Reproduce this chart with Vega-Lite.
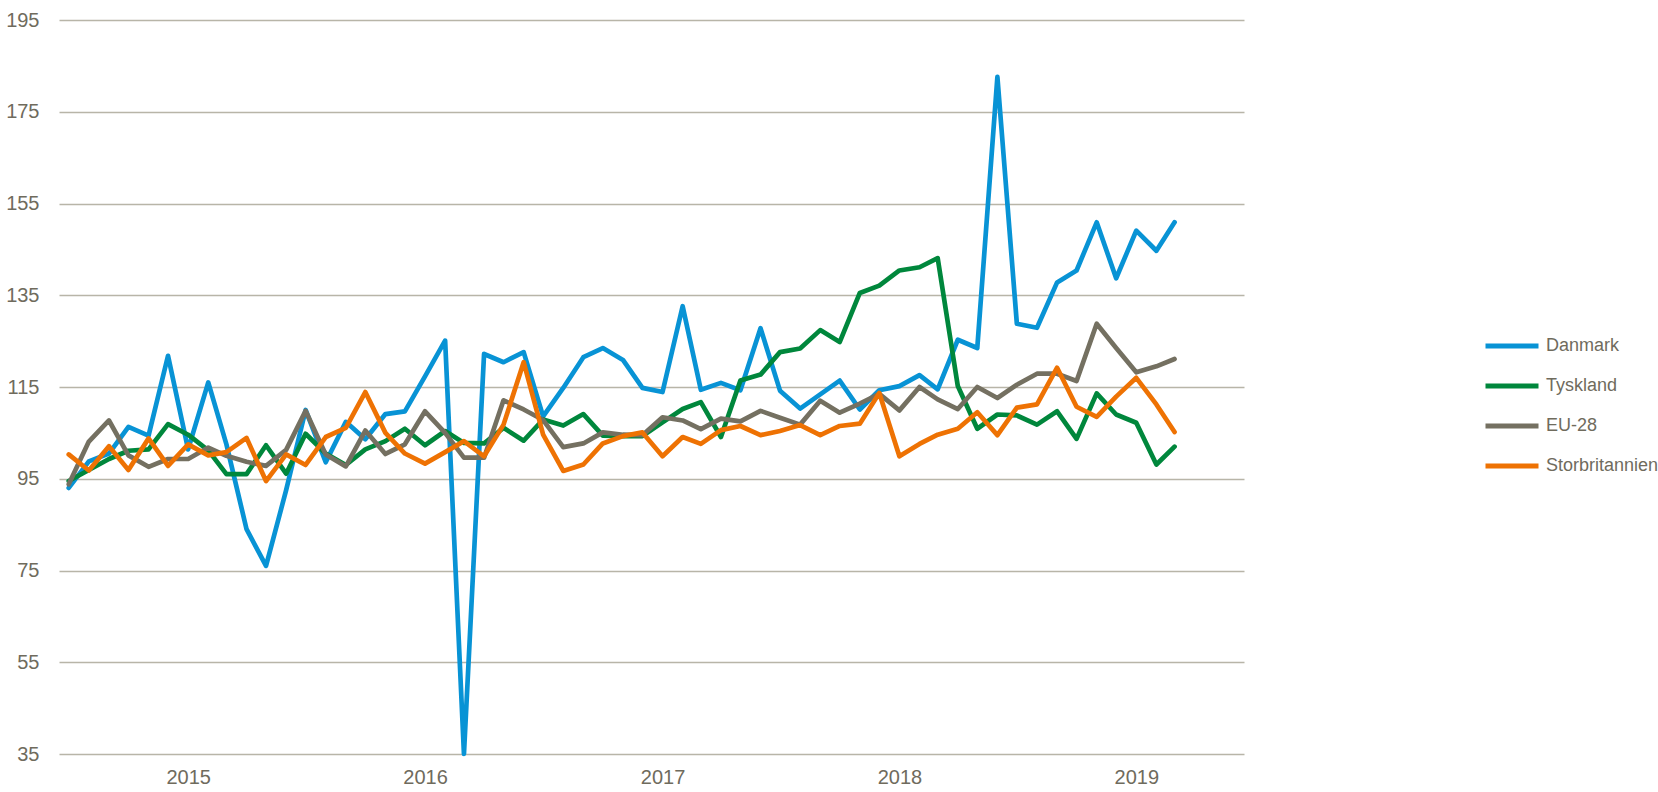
{
  "$schema": "https://vega.github.io/schema/vega-lite/v6.json",
  "width": 1185,
  "height": 734,
  "autosize": {"type": "none"},
  "padding": {"left": 59, "top": 20, "right": 414, "bottom": 38},
  "background": "white",
  "config": {
    "view": {"stroke": null},
    "font": "Liberation Sans"
  },
  "datasets": {
    "wide": [
      {"m": "2014-07-01", "Danmark": 93.0, "Tyskland": 94.5, "EU-28": 93.8, "Storbritannien": 100.3},
      {"m": "2014-08-01", "Danmark": 98.8, "Tyskland": 96.9, "EU-28": 103.1, "Storbritannien": 96.8},
      {"m": "2014-09-01", "Danmark": 100.5, "Tyskland": 99.3, "EU-28": 107.7, "Storbritannien": 102.1},
      {"m": "2014-10-01", "Danmark": 106.3, "Tyskland": 101.1, "EU-28": 100.1, "Storbritannien": 96.9},
      {"m": "2014-11-01", "Danmark": 104.4, "Tyskland": 101.4, "EU-28": 97.6, "Storbritannien": 103.8},
      {"m": "2014-12-01", "Danmark": 121.8, "Tyskland": 106.9, "EU-28": 99.3, "Storbritannien": 97.8},
      {"m": "2015-01-01", "Danmark": 101.4, "Tyskland": 104.6, "EU-28": 99.3, "Storbritannien": 102.5},
      {"m": "2015-02-01", "Danmark": 116.0, "Tyskland": 101.2, "EU-28": 101.8, "Storbritannien": 100.1},
      {"m": "2015-03-01", "Danmark": 102.5, "Tyskland": 96.0, "EU-28": 100.0, "Storbritannien": 100.8},
      {"m": "2015-04-01", "Danmark": 84.0, "Tyskland": 96.0, "EU-28": 98.7, "Storbritannien": 103.9},
      {"m": "2015-05-01", "Danmark": 76.0, "Tyskland": 102.3, "EU-28": 97.8, "Storbritannien": 94.5},
      {"m": "2015-06-01", "Danmark": 92.5, "Tyskland": 96.1, "EU-28": 101.3, "Storbritannien": 100.3},
      {"m": "2015-07-01", "Danmark": 110.0, "Tyskland": 104.8, "EU-28": 109.8, "Storbritannien": 98.0},
      {"m": "2015-08-01", "Danmark": 98.6, "Tyskland": 100.5, "EU-28": 100.3, "Storbritannien": 104.1},
      {"m": "2015-09-01", "Danmark": 107.4, "Tyskland": 98.0, "EU-28": 97.7, "Storbritannien": 106.1},
      {"m": "2015-10-01", "Danmark": 103.6, "Tyskland": 101.4, "EU-28": 105.5, "Storbritannien": 113.9},
      {"m": "2015-11-01", "Danmark": 109.1, "Tyskland": 103.2, "EU-28": 100.4, "Storbritannien": 105.0},
      {"m": "2015-12-01", "Danmark": 109.7, "Tyskland": 105.9, "EU-28": 102.5, "Storbritannien": 100.5},
      {"m": "2016-01-01", "Danmark": 117.3, "Tyskland": 102.3, "EU-28": 109.7, "Storbritannien": 98.3},
      {"m": "2016-02-01", "Danmark": 125.1, "Tyskland": 105.4, "EU-28": 105.0, "Storbritannien": 100.8},
      {"m": "2016-03-01", "Danmark": 35.0, "Tyskland": 102.8, "EU-28": 99.6, "Storbritannien": 103.2},
      {"m": "2016-04-01", "Danmark": 122.2, "Tyskland": 102.7, "EU-28": 99.6, "Storbritannien": 99.9},
      {"m": "2016-05-01", "Danmark": 120.4, "Tyskland": 106.1, "EU-28": 112.1, "Storbritannien": 106.8},
      {"m": "2016-06-01", "Danmark": 122.6, "Tyskland": 103.3, "EU-28": 110.1, "Storbritannien": 120.4},
      {"m": "2016-07-01", "Danmark": 108.6, "Tyskland": 107.9, "EU-28": 107.8, "Storbritannien": 104.6},
      {"m": "2016-08-01", "Danmark": 114.8, "Tyskland": 106.6, "EU-28": 101.9, "Storbritannien": 96.7},
      {"m": "2016-09-01", "Danmark": 121.5, "Tyskland": 109.1, "EU-28": 102.7, "Storbritannien": 98.1},
      {"m": "2016-10-01", "Danmark": 123.5, "Tyskland": 104.4, "EU-28": 105.1, "Storbritannien": 102.7},
      {"m": "2016-11-01", "Danmark": 120.9, "Tyskland": 104.3, "EU-28": 104.6, "Storbritannien": 104.3},
      {"m": "2016-12-01", "Danmark": 114.8, "Tyskland": 104.3, "EU-28": 104.5, "Storbritannien": 105.1},
      {"m": "2017-01-01", "Danmark": 113.9, "Tyskland": 107.3, "EU-28": 108.4, "Storbritannien": 99.9},
      {"m": "2017-02-01", "Danmark": 132.6, "Tyskland": 110.2, "EU-28": 107.7, "Storbritannien": 104.1},
      {"m": "2017-03-01", "Danmark": 114.4, "Tyskland": 111.7, "EU-28": 105.8, "Storbritannien": 102.6},
      {"m": "2017-04-01", "Danmark": 115.9, "Tyskland": 104.1, "EU-28": 108.1, "Storbritannien": 105.6},
      {"m": "2017-05-01", "Danmark": 114.3, "Tyskland": 116.4, "EU-28": 107.5, "Storbritannien": 106.5},
      {"m": "2017-06-01", "Danmark": 127.8, "Tyskland": 117.7, "EU-28": 109.8, "Storbritannien": 104.5},
      {"m": "2017-07-01", "Danmark": 114.2, "Tyskland": 122.6, "EU-28": 108.3, "Storbritannien": 105.4},
      {"m": "2017-08-01", "Danmark": 110.3, "Tyskland": 123.4, "EU-28": 106.8, "Storbritannien": 106.7},
      {"m": "2017-09-01", "Danmark": 113.4, "Tyskland": 127.4, "EU-28": 112.0, "Storbritannien": 104.5},
      {"m": "2017-10-01", "Danmark": 116.4, "Tyskland": 124.8, "EU-28": 109.4, "Storbritannien": 106.5},
      {"m": "2017-11-01", "Danmark": 110.1, "Tyskland": 135.5, "EU-28": 111.4, "Storbritannien": 107.0},
      {"m": "2017-12-01", "Danmark": 114.3, "Tyskland": 137.1, "EU-28": 113.5, "Storbritannien": 113.7},
      {"m": "2018-01-01", "Danmark": 115.2, "Tyskland": 140.4, "EU-28": 109.9, "Storbritannien": 99.9},
      {"m": "2018-02-01", "Danmark": 117.6, "Tyskland": 141.1, "EU-28": 115.0, "Storbritannien": 102.6},
      {"m": "2018-03-01", "Danmark": 114.5, "Tyskland": 143.1, "EU-28": 112.3, "Storbritannien": 104.6},
      {"m": "2018-04-01", "Danmark": 125.3, "Tyskland": 115.2, "EU-28": 110.2, "Storbritannien": 105.9},
      {"m": "2018-05-01", "Danmark": 123.5, "Tyskland": 105.9, "EU-28": 115.0, "Storbritannien": 109.5},
      {"m": "2018-06-01", "Danmark": 182.6, "Tyskland": 109.0, "EU-28": 112.6, "Storbritannien": 104.5},
      {"m": "2018-07-01", "Danmark": 128.8, "Tyskland": 108.8, "EU-28": 115.5, "Storbritannien": 110.5},
      {"m": "2018-08-01", "Danmark": 127.9, "Tyskland": 106.8, "EU-28": 117.9, "Storbritannien": 111.2},
      {"m": "2018-09-01", "Danmark": 137.8, "Tyskland": 109.7, "EU-28": 117.9, "Storbritannien": 119.2},
      {"m": "2018-10-01", "Danmark": 140.4, "Tyskland": 103.7, "EU-28": 116.3, "Storbritannien": 110.7},
      {"m": "2018-11-01", "Danmark": 150.9, "Tyskland": 113.6, "EU-28": 128.8, "Storbritannien": 108.5},
      {"m": "2018-12-01", "Danmark": 138.7, "Tyskland": 109.0, "EU-28": 123.5, "Storbritannien": 112.9},
      {"m": "2019-01-01", "Danmark": 149.1, "Tyskland": 107.2, "EU-28": 118.2, "Storbritannien": 117.0},
      {"m": "2019-02-01", "Danmark": 144.7, "Tyskland": 98.1, "EU-28": 119.5, "Storbritannien": 111.2},
      {"m": "2019-03-01", "Danmark": 150.9, "Tyskland": 102.0, "EU-28": 121.1, "Storbritannien": 105.2}
    ]
  },
  "data": {"name": "wide"},
  "transform": [
    {"fold": ["Danmark", "Tyskland", "EU-28", "Storbritannien"], "as": ["s", "v"]}
  ],
  "mark": {"type": "line", "strokeWidth": 4.7, "strokeCap": "round", "strokeJoin": "round"},
  "encoding": {
    "x": {
      "field": "m",
      "type": "temporal",
      "scale": {
        "type": "utc",
        "domain": [
          {"year": 2014, "month": 6, "date": 16, "utc": true},
          {"year": 2019, "month": 6, "date": 16, "utc": true}
        ]
      },
      "axis": {
        "title": null,
        "values": [
          {"year": 2015, "month": 1, "date": 1, "utc": true},
          {"year": 2016, "month": 1, "date": 1, "utc": true},
          {"year": 2017, "month": 1, "date": 1, "utc": true},
          {"year": 2018, "month": 1, "date": 1, "utc": true},
          {"year": 2019, "month": 1, "date": 1, "utc": true}
        ],
        "format": "%Y",
        "grid": false,
        "domain": false,
        "ticks": false,
        "labelFontSize": 20,
        "labelColor": "#6f6b5d",
        "labelPadding": 13
      }
    },
    "y": {
      "field": "v",
      "type": "quantitative",
      "scale": {"domain": [35, 195], "nice": false, "zero": false},
      "axis": {
        "title": null,
        "values": [35, 55, 75, 95, 115, 135, 155, 175, 195],
        "grid": true,
        "gridColor": "#b8b5a8",
        "gridWidth": 1.3,
        "domain": false,
        "ticks": false,
        "labelPadding": 20,
        "labelFontSize": 20,
        "labelColor": "#6f6b5d"
      }
    },
    "color": {
      "field": "s",
      "type": "nominal",
      "scale": {
        "domain": ["Danmark", "Tyskland", "EU-28", "Storbritannien"],
        "range": ["#0893d5", "#00873c", "#747061", "#ee7203"]
      },
      "legend": {
        "title": null,
        "orient": "none",
        "legendX": 1424,
        "legendY": 316,
        "symbolType": "stroke",
        "symbolSize": 2809,
        "symbolStrokeWidth": 5,
        "clipHeight": 20,
        "rowPadding": 20,
        "labelFontSize": 18,
        "labelColor": "#6f6b5d",
        "labelOffset": 5
      }
    }
  }
}
